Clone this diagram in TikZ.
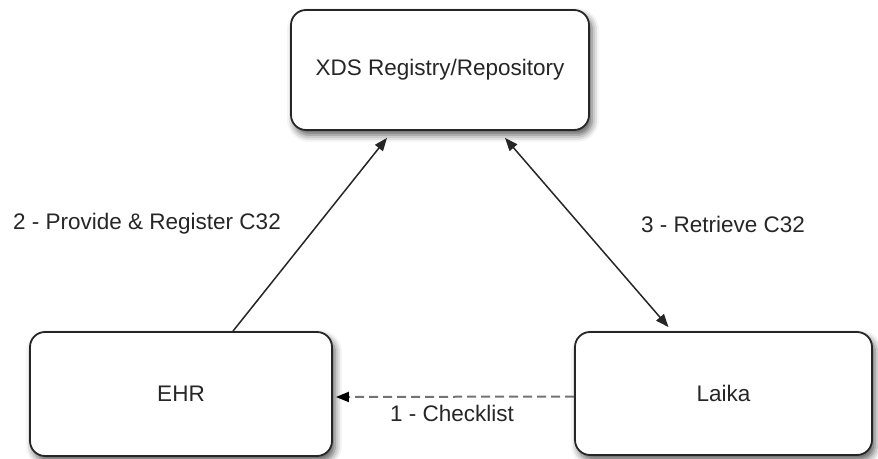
\documentclass[tikz,border=0pt]{standalone}
\usepackage{fontspec}
\setmainfont{Liberation Sans}
\usetikzlibrary{arrows.meta,shadows.blur}

\begin{document}
\begin{tikzpicture}[x=1pt, y=1pt,
    every node/.style={font=\fontsize{22.5}{27}\selectfont, text=black!85},
    box/.style={draw=black!85, line width=1.8pt, rounded corners=15pt, fill=white,
        minimum width=300pt, minimum height=123pt,
        blur shadow={shadow xshift=3pt, shadow yshift=-5pt, shadow blur radius=7pt, shadow opacity=65}},
    link/.style={line width=1.5pt, black!85},
    tip/.style={-{Triangle[length=13pt, width=10pt]}}]
    \useasboundingbox (0,0) rectangle (878,458);

    % Draw systems
    \node[box, minimum width=298pt, minimum height=120pt] (xds) at (440,388) {XDS Registry/Repository};
    \node[box, minimum width=302pt, minimum height=124pt] (ehr) at (181,64) {EHR};
    \node[box, minimum width=297pt] (laika) at (723.5,64.5) {Laika};

    % Draw messages
    \draw[link, tip] ([xshift=52pt]ehr.north) -- ([xshift=-53pt, yshift=-7pt]xds.south);
    \draw[link, {Triangle[length=13pt, width=10pt]}-{Triangle[length=13pt, width=10pt]}]
        ([xshift=65pt, yshift=-7pt]xds.south) -- ([xshift=-55pt, yshift=4pt]laika.north);
    \draw[line width=2pt, black!55, dash pattern=on 9pt off 5pt,
        -{Triangle[length=13pt, width=10pt, black]}] ([yshift=-3pt]laika.west) -- ([yshift=-3pt, xshift=3pt]ehr.east);

    % Labels for messages
    \node (provide) at (147,234) {2 - Provide \& Register C32};
    \node (retrieve) at (723,234) {3 - Retrieve C32};
    \node (checklist) at (452,45) {1 - Checklist};
\end{tikzpicture}
\end{document}
